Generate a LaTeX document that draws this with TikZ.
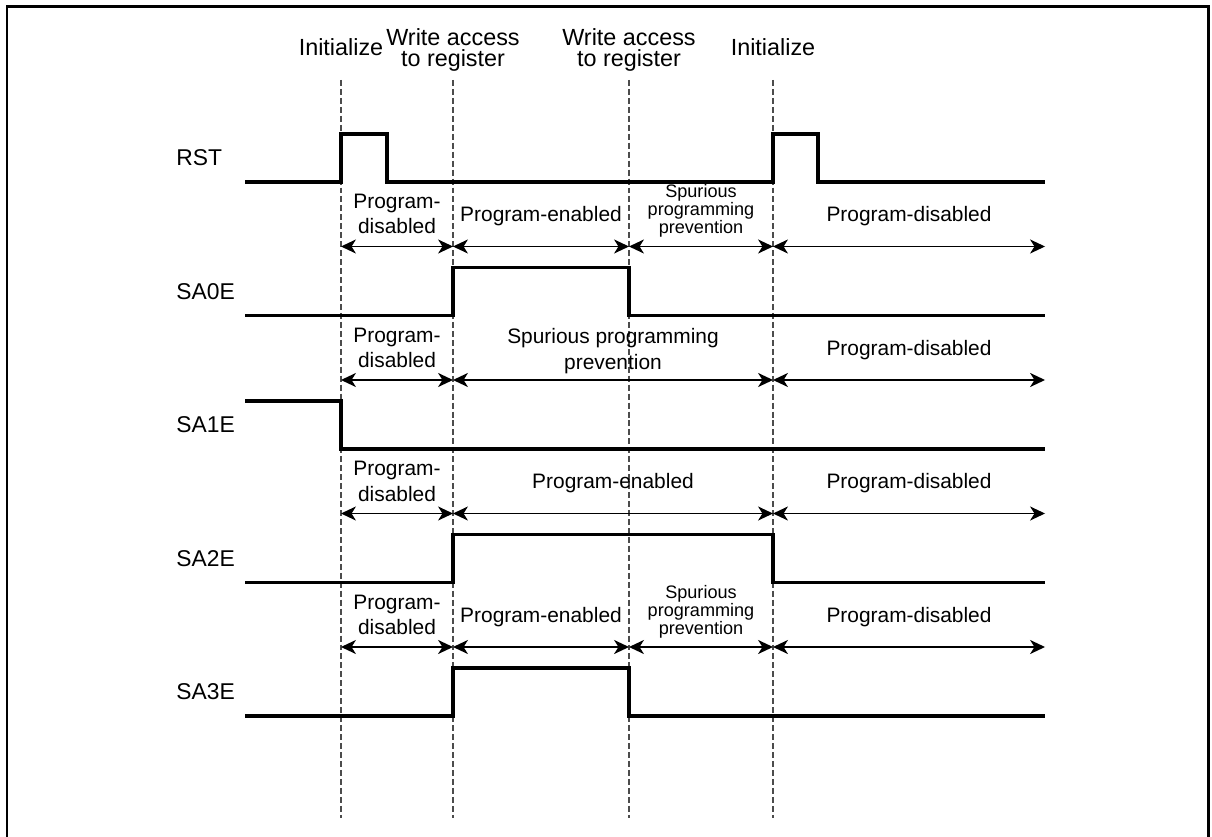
\documentclass[tikz,border=0pt]{standalone}
\usepackage{fontspec}
\setmainfont{Liberation Sans}
\usetikzlibrary{arrows.meta}

\begin{document}
\begin{tikzpicture}[
    x=0.02cm, y=-0.02cm,
    >={Stealth[length=8.5pt, width=8pt, inset=2.5pt]},
    frameline/.style={line width=1.7pt},
    tline/.style={dash pattern=on 3.4pt off 1.7pt, line width=0.6pt, draw=black!70},
    sig/.style={line width=1.8pt},
    span/.style={<->, line width=0.8pt},
    toplab/.style={font=\fontsize{13.3}{12.3}\selectfont, align=center, inner sep=0pt, anchor=base},
    signame/.style={font=\fontsize{13}{14}\selectfont, inner sep=0pt, anchor=west},
    lab/.style={font=\fontsize{11.9}{14.5}\selectfont, align=center, inner sep=0pt, anchor=base},
    smalllab/.style={font=\fontsize{10.3}{10.2}\selectfont, align=center, inner sep=0pt, anchor=base}
]
\useasboundingbox (0,0) rectangle (1212,837);

% frame (bottom edge is outside the picture)
\draw[frameline] (7,837) -- (7,6.5) -- (1208,6.5) -- (1208,837);

% time marks
\coordinate (tA) at (341,80);
\coordinate (tB) at (453,80);
\coordinate (tC) at (629,80);
\coordinate (tD) at (773,80);
\coordinate (tE) at (1045,80);
\draw[tline] (tA) -- ++(0,738);
\draw[tline] (tB) -- ++(0,738);
\draw[tline] (tC) -- ++(0,738);
\draw[tline] (tD) -- ++(0,738);

\node[toplab] (init1) at (341,56) {Initialize};
\node[toplab] (wr1) at (453,66.7) {Write access\\to register};
\node[toplab] (wr2) at (629,66.7) {Write access\\to register};
\node[toplab] (init2) at (773,56) {Initialize};

% arrow rows
\coordinate (r1) at (0,246.5);
\coordinate (r2) at (0,380);
\coordinate (r3) at (0,513.5);
\coordinate (r4) at (0,647);

% RST
\node[signame] (rst) at (176,158) {RST};
\draw[sig] (245,182) -| (341,134) -| (387,182) -- (773,182) |- (818,134) |- (1045,182);

\node[lab] (d1) at (397,234) {Program-\\disabled};
\node[lab] (e1) at (541,221.7) {Program-enabled};
\node[smalllab] (s1) at (701,233.5) {Spurious\\programming\\prevention};
\node[lab] (f1) at (909,221.7) {Program-disabled};
\draw[span] (tA |- r1) -- (tB |- r1);
\draw[span] (tB |- r1) -- (tC |- r1);
\draw[span] (tC |- r1) -- (tD |- r1);
\draw[span] (tD |- r1) -- (tE |- r1);

% SA0E
\node[signame] (sa0) at (176,291.5) {SA0E};
\draw[sig] (245,315.5) -| (453,267.5) -| (629,315.5) -- (1045,315.5);

\node[lab] (d2) at (397,367.5) {Program-\\disabled};
\node[lab] (s2) at (613,369.3) {Spurious programming\\prevention};
\node[lab] (f2) at (909,355.2) {Program-disabled};
\draw[span] (tA |- r2) -- (tB |- r2);
\draw[span] (tB |- r2) -- (tD |- r2);
\draw[span] (tD |- r2) -- (tE |- r2);

% SA1E
\node[signame] (sa1) at (176,425) {SA1E};
\draw[sig] (245,401) -| (341,449) -- (1045,449);

\node[lab] (d3) at (397,501) {Program-\\disabled};
\node[lab] (e3) at (613,488.7) {Program-enabled};
\node[lab] (f3) at (909,488.7) {Program-disabled};
\draw[span] (tA |- r3) -- (tB |- r3);
\draw[span] (tB |- r3) -- (tD |- r3);
\draw[span] (tD |- r3) -- (tE |- r3);

% SA2E
\node[signame] (sa2) at (176,558.5) {SA2E};
\draw[sig] (245,582.5) -| (453,534.5) -| (773,582.5) -- (1045,582.5);

\node[lab] (d4) at (397,634.5) {Program-\\disabled};
\node[lab] (e4) at (541,622.2) {Program-enabled};
\node[smalllab] (s4) at (701,634) {Spurious\\programming\\prevention};
\node[lab] (f4) at (909,622.2) {Program-disabled};
\draw[span] (tA |- r4) -- (tB |- r4);
\draw[span] (tB |- r4) -- (tC |- r4);
\draw[span] (tC |- r4) -- (tD |- r4);
\draw[span] (tD |- r4) -- (tE |- r4);

% SA3E
\node[signame] (sa3) at (176,692) {SA3E};
\draw[sig] (245,716) -| (453,668) -| (629,716) -- (1045,716);

\end{tikzpicture}
\end{document}
